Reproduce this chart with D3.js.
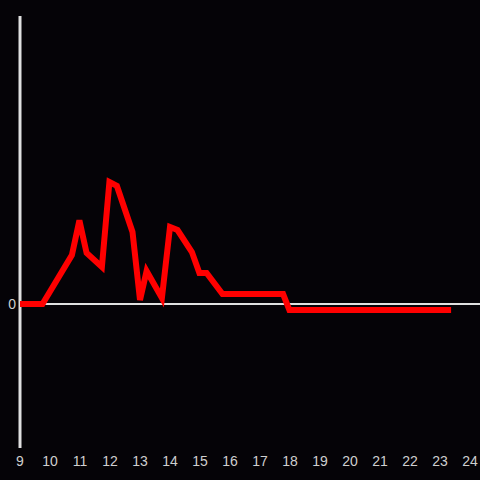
<!DOCTYPE html>
<html>
<head>
<meta charset="utf-8">
<script src="https://cdn.jsdelivr.net/npm/d3@7"></script>
<style>
  html, body { margin: 0; padding: 0; background: #050307; }
  svg { display: block; }
</style>
</head>
<body>
<svg id="chart" width="480" height="480"></svg>
<script>
const hours = [9, 9.75, 10.73, 10.98, 11.22, 11.73, 11.98, 12.23, 12.75, 13, 13.22, 13.73, 14, 14.25, 14.73, 14.98, 15.22, 15.75, 17.77, 17.98, 23.37]
const values = [0, 0, 0.34, 0.58, 0.354, 0.257, 0.847, 0.82, 0.5, 0.028, 0.229, 0.042, 0.535, 0.514, 0.361, 0.215, 0.215, 0.069, 0.069, -0.042, -0.042]
const xTicks = d3.range(9, 25)
const yTicks = [0]

const width = 480
const height = 480

const svg = d3.select('#chart')

const xScale = d3.scaleLinear().domain([9, 24]).range([20, 470])
const yScale = d3.scaleLinear().domain([-1, 2]).range([448, 16])

const axisColor = '#e0e0e0'
const labelColor = '#cfcfcf'

// vertical axis
svg.append('line')
  .attr('x1', xScale(9)).attr('x2', xScale(9))
  .attr('y1', yScale(2)).attr('y2', yScale(-1))
  .attr('stroke', axisColor)
  .attr('stroke-width', 3)

// zero line
svg.append('line')
  .attr('x1', xScale(9)).attr('x2', width)
  .attr('y1', yScale(0)).attr('y2', yScale(0))
  .attr('stroke', axisColor)
  .attr('stroke-width', 2)

svg.selectAll('.ylabel')
  .data(yTicks)
  .enter()
  .append('text')
  .attr('class', 'ylabel')
  .attr('x', 16)
  .attr('y', (d) => yScale(d))
  .attr('dy', '0.35em')
  .attr('text-anchor', 'end')
  .attr('fill', labelColor)
  .style('font', '14px "Liberation Sans", Arial, sans-serif')
  .text((d) => d)

svg.selectAll('.xlabel')
  .data(xTicks)
  .enter()
  .append('text')
  .attr('class', 'xlabel')
  .attr('x', (d) => Math.min(xScale(d), 470))
  .attr('y', 461)
  .attr('dy', '0.35em')
  .attr('text-anchor', 'middle')
  .attr('fill', labelColor)
  .style('font', '14px "Liberation Sans", Arial, sans-serif')
  .text((d) => d)

const points = hours.map((h, i) => [h, values[i]])

const line = d3.line()
  .x((d) => xScale(d[0]))
  .y((d) => yScale(d[1]))

svg.append('path')
  .datum(points)
  .attr('d', line)
  .attr('fill', 'none')
  .attr('stroke', '#ff0000')
  .attr('stroke-width', 6)
  .attr('stroke-linejoin', 'miter')
</script>
</body>
</html>
